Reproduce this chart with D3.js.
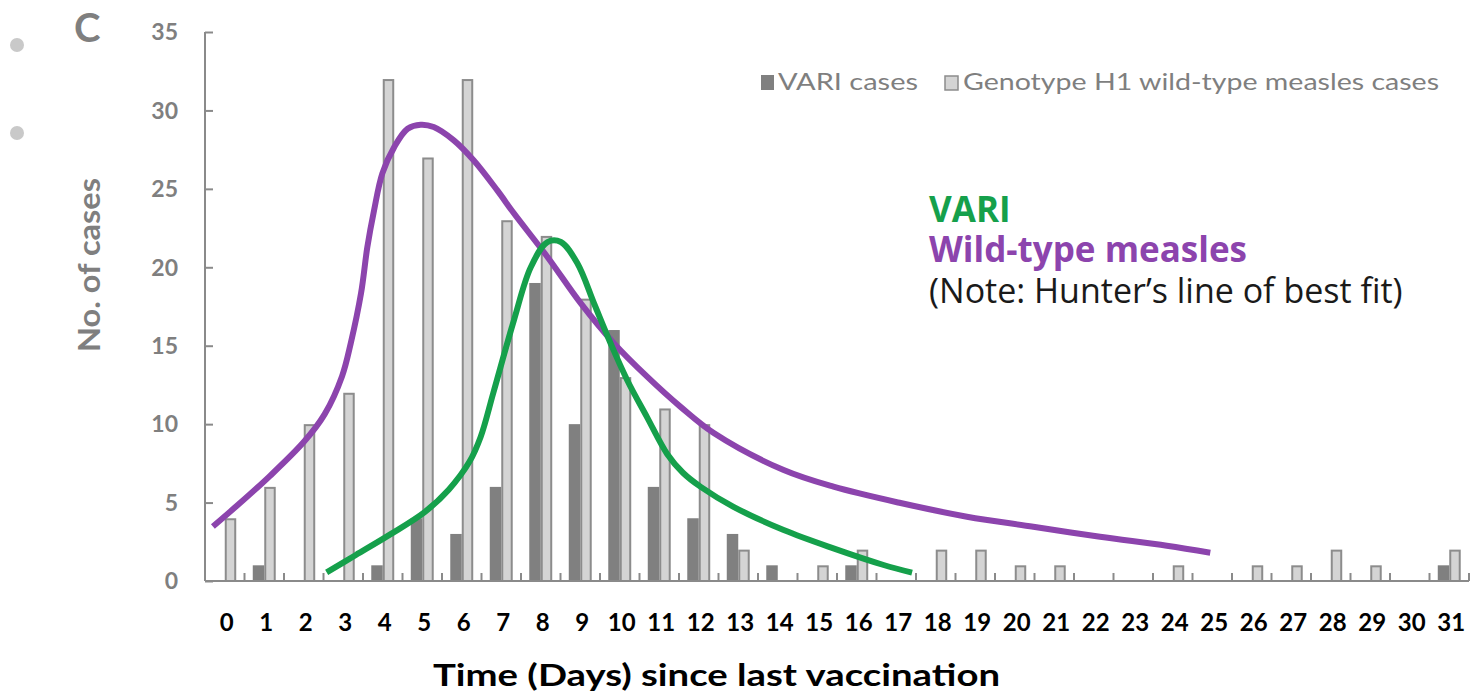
<!DOCTYPE html>
<html>
<head>
<meta charset="utf-8">
<script src="https://cdn.jsdelivr.net/npm/d3@7/dist/d3.min.js"></script>
<style>
  html, body { margin: 0; padding: 0; background: #ffffff; }
  svg { display: block; }
</style>
</head>
<body>
<svg id="chart" width="1472" height="692"></svg>
<script>
// Days since last vaccination (x categories)
const days = d3.range(0, 32);
// VARI cases per day
const variCases = [0, 1, 0, 0, 1, 4, 3, 6, 19, 10, 16, 6, 4, 3, 1, 0, 1, 0, 0, 0, 0, 0, 0, 0, 0, 0, 0, 0, 0, 0, 0, 1];
// Genotype H1 wild-type measles cases per day
const h1Cases = [4, 6, 10, 12, 32, 27, 32, 23, 22, 18, 13, 11, 10, 2, 0, 1, 2, 0, 2, 2, 1, 1, 0, 0, 1, 0, 1, 1, 2, 1, 0, 2];
// y-axis ticks
const yTicks = [0, 5, 10, 15, 20, 25, 30, 35];

// Hand-drawn best-fit curves: [day, cases]
const wildFitDay = [-0.30, 0.27, 1.14, 2.01, 2.53, 2.97, 3.19, 3.45, 3.61, 3.78, 3.99, 4.29, 4.63, 4.96, 5.29, 5.80, 6.30, 6.90, 7.32, 8.17, 9.01, 9.85, 10.70, 11.54, 12.38, 14.15, 15.41, 17.11, 18.79, 20.47, 22.16, 23.85, 24.95];
const wildFitVal = [3.47, 4.71, 6.69, 8.89, 10.64, 13.06, 15.16, 18.34, 21.29, 23.63, 25.99, 27.66, 28.83, 29.09, 28.94, 28.09, 26.82, 24.90, 23.44, 20.66, 17.71, 15.16, 13.01, 11.10, 9.43, 7.07, 6.01, 4.97, 4.10, 3.46, 2.82, 2.25, 1.80];
const variFitDay = [2.58, 3.32, 4.19, 5.06, 5.67, 6.19, 6.48, 6.80, 7.32, 7.75, 8.17, 8.51, 8.93, 9.35, 9.77, 10.19, 10.70, 11.20, 11.60, 12.05, 12.88, 14.15, 15.41, 16.68, 17.40];
const variFitVal = [0.55, 1.66, 2.97, 4.39, 5.82, 7.58, 9.2, 12.0, 16.62, 20.02, 21.61, 21.61, 20.24, 17.69, 15.14, 12.80, 10.4, 8.1, 6.9, 6.0, 4.73, 3.25, 2.08, 1.02, 0.53];

const seriesKeys = ["vari", "h1"];
const legendLabels = ["VARI cases", "Genotype H1 wild-type measles cases"];

const GREEN = "#15a04b";
const PURPLE = "#8c44ad";
const AXIS = "#8a8a8a";
const LABEL_GRAY = "#7f7f7f";

const svg = d3.select("#chart");

const plotLeft = 205, plotRight = 1469, plotTop = 32, plotBottom = 581;

const x0 = d3.scaleBand().domain(days).range([plotLeft, plotRight]).paddingInner(0).paddingOuter(0);
const x1 = d3.scaleBand().domain(seriesKeys).range([0, x0.bandwidth()]).paddingInner(0).paddingOuter(0.72);
const y = d3.scaleLinear().domain([0, 35]).range([plotBottom, plotTop]);
const xc = d => x0(0) + x0.bandwidth() / 2 + d * x0.step();

// Slide decorations
svg.append("circle").attr("cx", 17).attr("cy", 45).attr("r", 7).attr("fill", "#c9c9c9");
svg.append("circle").attr("cx", 17).attr("cy", 133).attr("r", 7).attr("fill", "#c9c9c9");
svg.append("text").attr("x", 74).attr("y", 42)
  .attr("font-family", "Lato, sans-serif").attr("font-weight", 700).attr("font-size", 40)
  .attr("fill", LABEL_GRAY).text("C");

// Bars
const rows = days.map((d, i) => ({ day: d, vari: variCases[i], h1: h1Cases[i] }));
const groups = svg.append("g").selectAll("g").data(rows).join("g")
  .attr("transform", d => `translate(${x0(d.day)},0)`);

groups.append("rect")
  .attr("x", x1("vari")).attr("width", x1.bandwidth())
  .attr("y", d => y(d.vari)).attr("height", d => y(0) - y(d.vari))
  .attr("fill", "#808080");

groups.filter(d => d.h1 > 0).append("rect")
  .attr("x", x1("h1") + 1).attr("width", x1.bandwidth() - 2)
  .attr("y", d => y(d.h1) + 1).attr("height", d => Math.max(0, y(0) - y(d.h1) - 1))
  .attr("fill", "#d4d4d4").attr("stroke", "#8c8c8c").attr("stroke-width", 2);

// Axes
const yAxis = svg.append("g").attr("transform", `translate(${plotLeft},0)`)
  .call(d3.axisRight(y).tickValues(yTicks).tickSize(8).tickFormat(""));
yAxis.select(".domain").attr("d", `M0,${plotTop}V${plotBottom}`);
yAxis.selectAll("path, line").attr("stroke", AXIS).attr("stroke-width", 2);

svg.append("g").selectAll("text").data(yTicks).join("text")
  .attr("x", 178).attr("y", d => y(d)).attr("dy", "0.36em")
  .attr("text-anchor", "end")
  .attr("font-family", "Lato, sans-serif").attr("font-weight", 700).attr("font-size", 23)
  .attr("fill", LABEL_GRAY).text(d => d);

const boundaries = d3.range(0, days.length + 1).map(i => plotLeft + i * x0.step());
const xAxis = svg.append("g");
xAxis.append("line").attr("x1", plotLeft).attr("x2", plotRight).attr("y1", plotBottom).attr("y2", plotBottom)
  .attr("stroke", AXIS).attr("stroke-width", 2);
xAxis.selectAll("line.tick").data(boundaries).join("line").attr("class", "tick")
  .attr("x1", d => d).attr("x2", d => d).attr("y1", plotBottom).attr("y2", plotBottom - 8)
  .attr("stroke", AXIS).attr("stroke-width", 2);

svg.append("g").selectAll("text").data(days).join("text")
  .attr("x", d => x0(d) + x0.bandwidth() / 2 + 2).attr("y", 622).attr("dy", "0.36em")
  .attr("text-anchor", "middle")
  .attr("font-family", "Lato, sans-serif").attr("font-weight", 700).attr("font-size", 24)
  .attr("fill", "#000").text(d => d);

// Axis titles
svg.append("text").attr("x", 433).attr("y", 686)
  .attr("font-family", "Lato, sans-serif").attr("font-weight", 700).attr("font-size", 31)
  .attr("textLength", 567).attr("lengthAdjust", "spacingAndGlyphs")
  .attr("fill", "#000").text("Time (Days) since last vaccination");

svg.append("text").attr("transform", "translate(100,352) rotate(-90)")
  .attr("font-family", "Lato, sans-serif").attr("font-weight", 700).attr("font-size", 31)
  .attr("textLength", 174).attr("lengthAdjust", "spacingAndGlyphs")
  .attr("fill", LABEL_GRAY).text("No. of cases");

// Legend
const legend = svg.append("g");
legend.append("rect").attr("x", 761).attr("y", 75).attr("width", 13).attr("height", 15).attr("fill", "#808080");
legend.append("text").attr("x", 778).attr("y", 82).attr("dy", "0.36em")
  .attr("font-family", "Lato, sans-serif").attr("font-size", 23).attr("fill", LABEL_GRAY)
  .attr("textLength", 140).attr("lengthAdjust", "spacingAndGlyphs").text(legendLabels[0]);
legend.append("rect").attr("x", 945).attr("y", 76).attr("width", 13).attr("height", 14)
  .attr("fill", "#d4d4d4").attr("stroke", "#8c8c8c").attr("stroke-width", 1.5);
legend.append("text").attr("x", 963).attr("y", 82).attr("dy", "0.36em")
  .attr("font-family", "Lato, sans-serif").attr("font-size", 23).attr("fill", LABEL_GRAY)
  .attr("textLength", 476).attr("lengthAdjust", "spacingAndGlyphs").text(legendLabels[1]);

// Best-fit curves
const line = d3.line().x(d => xc(d[0])).y(d => y(d[1])).curve(d3.curveCatmullRom.alpha(0.5));
svg.append("path").datum(d3.zip(wildFitDay, wildFitVal)).attr("d", line)
  .attr("fill", "none").attr("stroke", PURPLE).attr("stroke-width", 6);
svg.append("path").datum(d3.zip(variFitDay, variFitVal)).attr("d", line)
  .attr("fill", "none").attr("stroke", GREEN).attr("stroke-width", 6);

// Annotation
const note = svg.append("g").attr("font-family", "'Open Sans', sans-serif");
note.append("text").attr("x", 929).attr("y", 222).attr("font-size", 35).attr("font-weight", 700)
  .attr("fill", GREEN).text("VARI");
note.append("text").attr("x", 929).attr("y", 262).attr("font-size", 35).attr("font-weight", 700)
  .attr("fill", PURPLE).text("Wild-type measles");
note.append("text").attr("x", 929).attr("y", 303).attr("font-size", 34)
  .attr("fill", "#1a1a1a").text("(Note: Hunter\u2019s line of best fit)");
</script>
</body>
</html>
